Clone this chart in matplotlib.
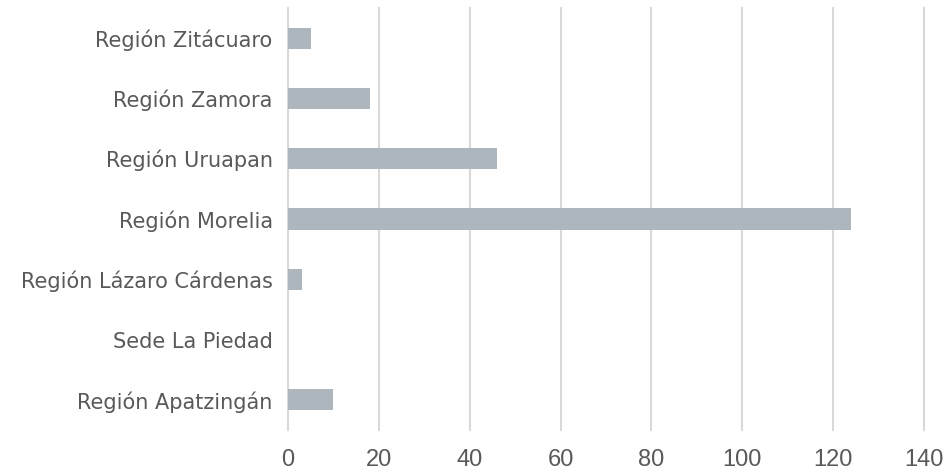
import matplotlib.pyplot as plt

regions = ["Región Apatzingán", "Sede La Piedad", "Región Lázaro Cárdenas",
           "Región Morelia", "Región Uruapan", "Región Zamora", "Región Zitácuaro"]
values = [10, 0, 3, 124, 46, 18, 5]
xticks = [0, 20, 40, 60, 80, 100, 120, 140]

plt.rcParams['font.family'] = ['DejaVu Sans']

fig = plt.figure(figsize=(9.52, 4.74), dpi=100)
ax = fig.add_axes([0.3025, 0.093, 0.668, 0.89])

ax.barh(range(len(regions)), values, height=0.35, color='#adb5bd', zorder=3)
ax.set_yticks(range(len(regions)))
ax.set_yticklabels(regions, fontsize=15, color='#595959')
ax.set_ylim(-0.5, len(regions) - 0.5)

ax.set_xlim(0, 140)
ax.set_xticks(xticks)
ax.set_xticklabels([str(t) for t in xticks], fontsize=17, color='#595959',
                   family=['Liberation Sans', 'DejaVu Sans'])
ax.grid(axis='x', color='#d9d9d9', linewidth=1.5, zorder=0)
for gl in ax.get_xgridlines():
    gl.set_clip_on(False)

for s in ax.spines.values():
    s.set_visible(False)
ax.tick_params(axis='both', length=0)
ax.tick_params(axis='x', pad=14)
ax.tick_params(axis='y', pad=11)

plt.savefig("out.png", dpi=100)
